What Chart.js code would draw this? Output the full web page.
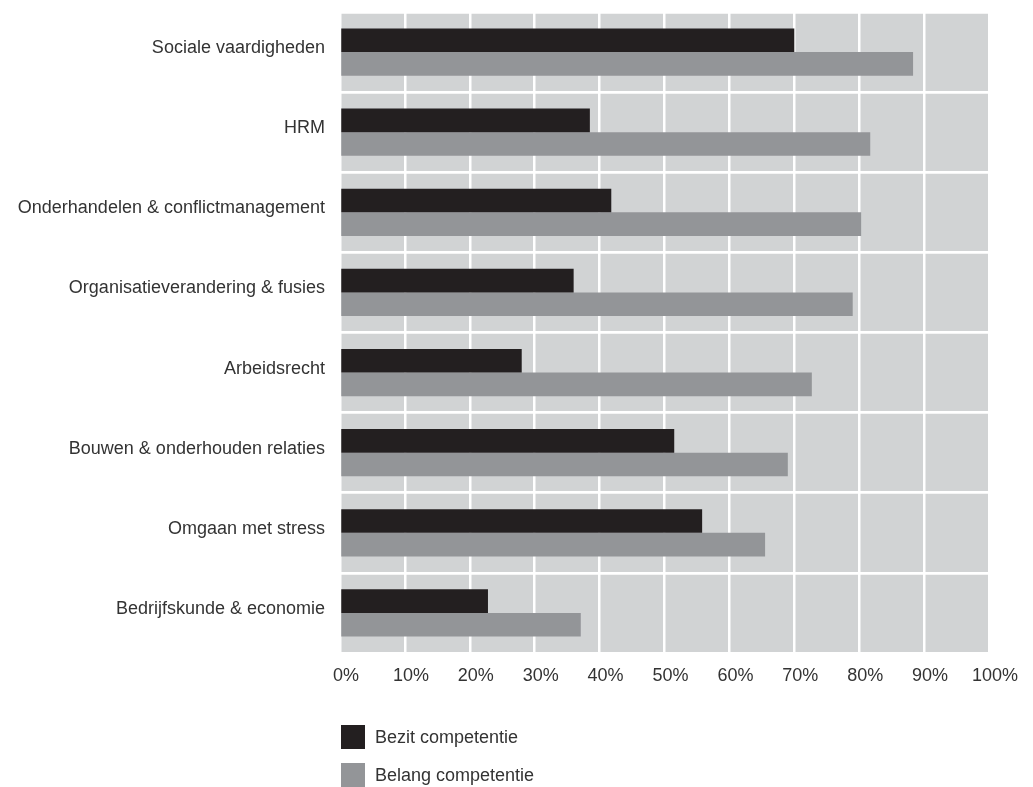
<!DOCTYPE html>
<html>
<head>
<meta charset="utf-8">
<script src="https://cdn.jsdelivr.net/npm/chart.js@4/dist/chart.umd.min.js"></script>
<style>
  html, body { margin: 0; padding: 0; background: #ffffff; }
  #wrap { position: relative; width: 1033px; height: 787px; }
  #legend { position: absolute; left: 341px; top: 725px; font-family: "Liberation Sans", Arial, sans-serif; font-size: 18px; color: #333333; }
  .item { display: flex; align-items: center; height: 24px; margin-bottom: 14px; }
  .box { width: 24px; height: 24px; margin-right: 10px; }
</style>
</head>
<body>
<div id="wrap">
  <canvas id="c" width="1033" height="787"></canvas>
  <div id="legend"></div>
</div>
<script>
const categories = [
  "Sociale vaardigheden",
  "HRM",
  "Onderhandelen & conflictmanagement",
  "Organisatieverandering & fusies",
  "Arbeidsrecht",
  "Bouwen & onderhouden relaties",
  "Omgaan met stress",
  "Bedrijfskunde & economie"
];
const seriesNames = ["Bezit competentie", "Belang competentie"];
const bezit  = [70.0, 38.5, 41.8, 36.0, 28.0, 51.5, 55.8, 22.8];
const belang = [88.3, 81.7, 80.3, 79.0, 72.7, 69.0, 65.5, 37.1];
const xTicks = [0, 10, 20, 30, 40, 50, 60, 70, 80, 90, 100];
const colors = ["#231f20", "#939598"];

const plotBg = {
  id: 'plotBg',
  beforeDraw(chart) {
    const {ctx, chartArea: a} = chart;
    ctx.save();
    ctx.fillStyle = '#d1d3d4';
    ctx.fillRect(a.left, a.top, a.right - a.left, a.bottom - a.top);
    ctx.restore();
  }
};

const FONT = { family: '"Liberation Sans", Arial, sans-serif', size: 18 };

const chart = new Chart(document.getElementById('c'), {
  type: 'bar',
  data: {
    labels: categories,
    datasets: [
      { label: seriesNames[0], data: bezit, backgroundColor: colors[0] },
      { label: seriesNames[1], data: belang, backgroundColor: colors[1] }
    ]
  },
  options: {
    indexAxis: 'y',
    responsive: false,
    animation: false,
    devicePixelRatio: 1,
    categoryPercentage: 0.59,
    barPercentage: 1.0,
    layout: { padding: { top: 12, right: 44, left: 0, bottom: 0 } },
    plugins: { legend: { display: false }, tooltip: { enabled: false } },
    scales: {
      x: {
        min: 0, max: 100,
        afterBuildTicks(scale) { scale.ticks = xTicks.map(v => ({ value: v })); },
        afterFit(scale) { scale.height = 134; scale.paddingLeft = 0; scale.paddingRight = 0; },
        ticks: {
          callback: v => v + '%',
          color: '#333333',
          font: FONT,
          padding: 12,
          labelOffset: 6,
          maxRotation: 0,
          autoSkip: false
        },
        grid: { color: '#ffffff', lineWidth: 2.5, drawTicks: false },
        border: { display: false }
      },
      y: {
        afterFit(scale) { scale.width = 340; scale.paddingTop = 0; scale.paddingBottom = 0; },
        ticks: {
          color: '#333333',
          font: FONT,
          padding: 15,
          labelOffset: -4,
          autoSkip: false
        },
        grid: { color: '#ffffff', lineWidth: 2.7, drawTicks: false, offset: true },
        border: { display: false }
      }
    }
  },
  plugins: [plotBg]
});

const legend = document.getElementById('legend');
chart.data.datasets.forEach(ds => {
  const it = document.createElement('div');
  it.className = 'item';
  const b = document.createElement('div');
  b.className = 'box';
  b.style.background = ds.backgroundColor;
  const t = document.createElement('span');
  t.textContent = ds.label;
  it.appendChild(b); it.appendChild(t);
  legend.appendChild(it);
});
</script>
</body>
</html>
